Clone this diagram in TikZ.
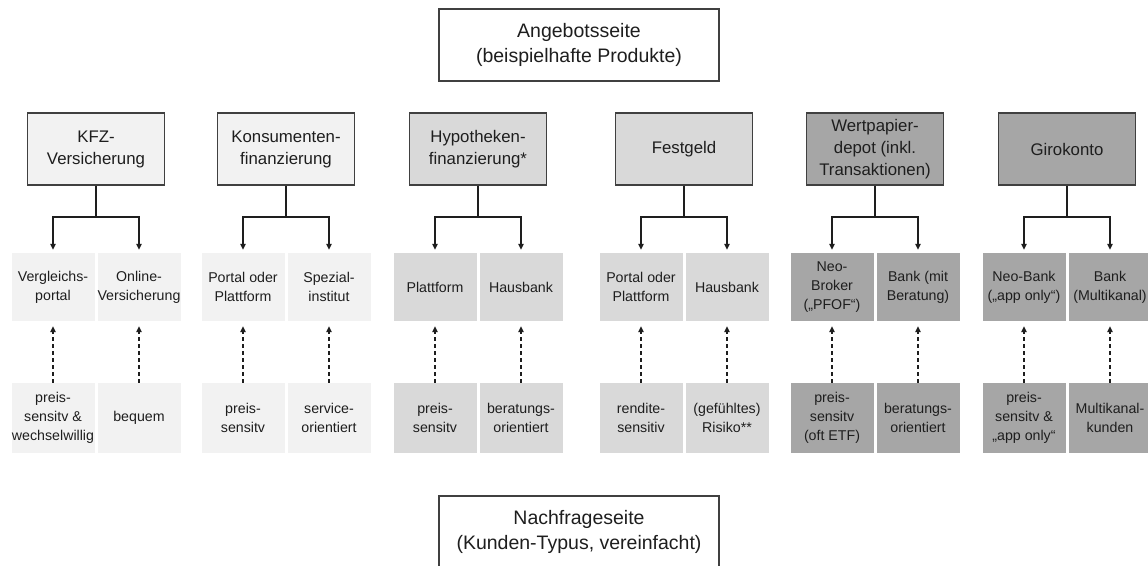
\documentclass[tikz,border=0pt]{standalone}
\usepackage{fontspec}
\setmainfont{Liberation Sans}
\usetikzlibrary{arrows.meta}

\definecolor{fillA}{HTML}{F2F2F2}
\definecolor{fillB}{HTML}{D9D9D9}
\definecolor{fillC}{HTML}{A6A6A6}
\definecolor{edge}{HTML}{404040}
\definecolor{ink}{HTML}{1E1E1E}

\tikzset{
  sidebox/.style={draw=edge, line width=1.3pt, fill=white, minimum width=280pt,
    minimum height=72pt, inner sep=0pt, align=center, text=ink,
    font=\fontsize{19.5}{25}\selectfont},
  prodbox/.style={draw=edge, line width=1.4pt, minimum width=137pt,
    minimum height=72pt, inner sep=0pt, align=center, text=ink,
    font=\fontsize{16.8}{22}\selectfont},
  subbox/.style={minimum width=83pt, inner sep=0pt, align=center, text=ink,
    font=\fontsize{14.2}{19}\selectfont},
  chanbox/.style={subbox, minimum height=68pt},
  custbox/.style={subbox, minimum height=70pt},
  conn/.style={draw=ink, line width=1.2pt},
  downarrow/.style={conn, -{Triangle[length=6pt,width=5.5pt]}, shorten >=3pt},
  uparrow/.style={conn, dashed, dash pattern=on 4pt off 3pt,
    -{Triangle[length=6pt,width=5.5pt]}, shorten >=5pt},
}

% one product column: product box, two channels, two customer types
% #1 id, #2 centre x, #3 fill, #4 product, #5/#6 channels, #7/#8 customers
\newcommand\productcolumn[8]{%
  \node[prodbox, fill=#3] (m#1) at (#2,149) {#4};
  \coordinate (j#1) at (#2,217);
  \node[chanbox, fill=#3] (sa#1) at (#2-43,287) {#5};
  \node[chanbox, fill=#3] (sb#1) at (#2+43,287) {#6};
  \node[custbox, fill=#3] (la#1) at (#2-43,418) {#7};
  \node[custbox, fill=#3] (lb#1) at (#2+43,418) {#8};
  \draw[conn] (m#1) -- (j#1);
  \draw[downarrow] (j#1) -| (sa#1);
  \draw[downarrow] (j#1) -| (sb#1);
  \draw[uparrow] (la#1) -- (sa#1);
  \draw[uparrow] (lb#1) -- (sb#1);
}

\begin{document}
\begin{tikzpicture}[x=1pt,y=-1pt]
  \useasboundingbox (0,0) rectangle (1148,565);
  \clip (0,0) rectangle (1148,565);
  \fill[white] (0,0) rectangle (1148,565);

  \node[sidebox] (angebot) at (579,45) {Angebotsseite\\(beispielhafte Produkte)};
  \node[sidebox] (nachfrage) at (579,532) {Nachfrageseite\\(Kunden-Typus, vereinfacht)};

  \productcolumn{1}{96}{fillA}{KFZ-\\Versicherung}
    {Vergleichs-\\portal}{Online-\\Versicherung}
    {preis-\\sensitv \&\\wechselwillig}{bequem}
  \productcolumn{2}{286}{fillA}{Konsumenten-\\finanzierung}
    {Portal oder\\Plattform}{Spezial-\\institut}
    {preis-\\sensitv}{service-\\orientiert}
  \productcolumn{3}{478}{fillB}{Hypotheken-\\finanzierung*}
    {Plattform}{Hausbank}
    {preis-\\sensitv}{beratungs-\\orientiert}
  \productcolumn{4}{684}{fillB}{Festgeld}
    {Portal oder\\Plattform}{Hausbank}
    {rendite-\\sensitiv}{(gefühltes)\\Risiko**}
  \productcolumn{5}{875}{fillC}{Wertpapier-\\depot (inkl.\\Transaktionen)}
    {Neo-\\Broker\\(„PFOF“)}{Bank (mit\\Beratung)}
    {preis-\\sensitv\\(oft ETF)}{beratungs-\\orientiert}
  \productcolumn{6}{1067}{fillC}{Girokonto}
    {Neo-Bank\\(„app only“)}{Bank\\(Multikanal)}
    {preis-\\sensitv \&\\„app only“}{Multikanal-\\kunden}
\end{tikzpicture}
\end{document}
